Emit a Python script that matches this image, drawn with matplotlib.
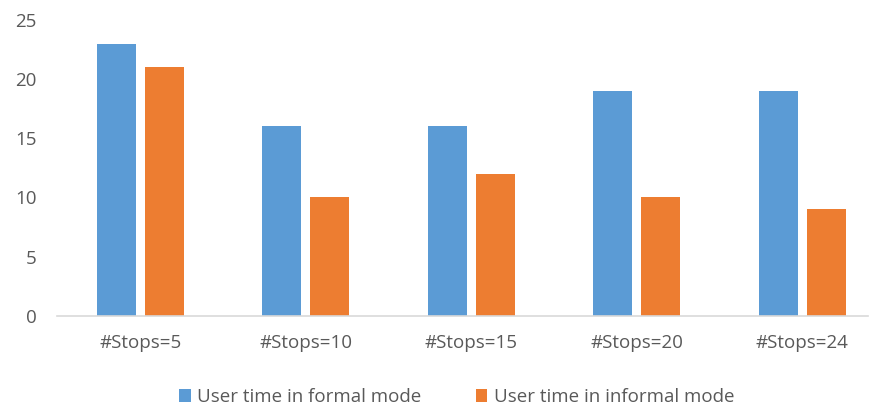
import numpy as np
import matplotlib.pyplot as plt

categories = ['#Stops=5', '#Stops=10', '#Stops=15', '#Stops=20', '#Stops=24']
formal_time = [23, 16, 16, 19, 19]
informal_time = [21, 10, 12, 10, 9]
series_names = ['User time in formal mode', 'User time in informal mode']

BLUE = '#5B9BD5'
ORANGE = '#ED7D31'
TXT = '#595959'

plt.rcParams['font.family'] = ['Open Sans', 'DejaVu Sans']

fig = plt.figure(figsize=(8.7, 4.05), dpi=100)
ax = fig.add_axes([0.066, 0.220, 0.932, 0.731])

x = np.arange(len(categories))
w = 0.235
off = 0.145
ax.bar(x - off, formal_time, w, color=BLUE, label=series_names[0])
ax.bar(x + off, informal_time, w, color=ORANGE, label=series_names[1])

ax.set_xlim(-0.5, 4.4)
ax.set_ylim(0, 25)
ax.set_yticks(range(0, 26, 5))
ax.set_xticks(x)
ax.set_xticklabels(categories)

for s in ['top', 'right', 'left']:
    ax.spines[s].set_visible(False)
ax.spines['bottom'].set_color('#D9D9D9')
ax.spines['bottom'].set_linewidth(1.2)
ax.tick_params(axis='both', length=0, labelsize=13.5, colors=TXT)
ax.tick_params(axis='x', pad=13)
ax.tick_params(axis='y', pad=15)

leg = fig.legend(loc='lower center', bbox_to_anchor=(0.525, -0.045), ncol=2,
                 frameon=False, fontsize=13.5, handlelength=0.6, handleheight=0.7,
                 handletextpad=0.35, columnspacing=2.9)
for t in leg.get_texts():
    t.set_color(TXT)

fig.savefig('out.png', dpi=100)
